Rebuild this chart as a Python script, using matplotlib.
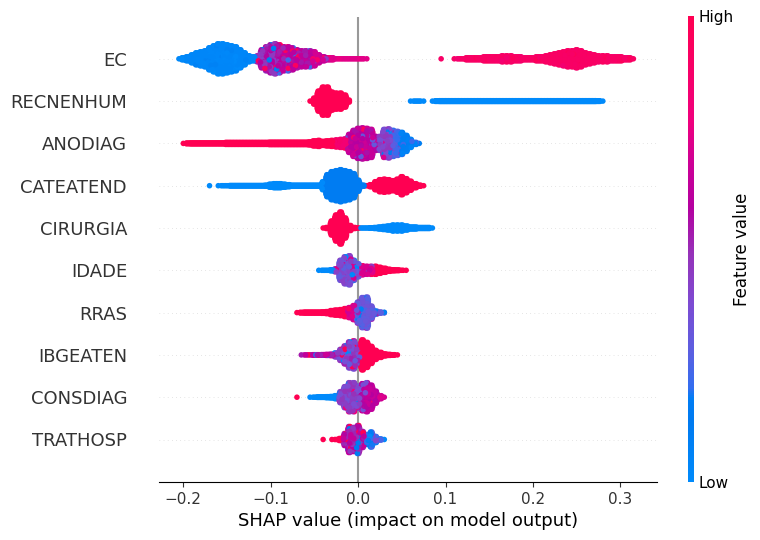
import numpy as np
import matplotlib
matplotlib.use('Agg')
import matplotlib.pyplot as plt
from matplotlib.colors import LinearSegmentedColormap
from matplotlib.cm import ScalarMappable

# Features from the most to the least important
features = ['EC', 'RECNENHUM', 'ANODIAG', 'CATEATEND', 'CIRURGIA',
            'IDADE', 'RRAS', 'IBGEATEN', 'CONSDIAG', 'TRATHOSP']

# SHAP bin width, every feature is a histogram of piles over these bins
bin_width = 0.005

# First bin of each feature
first_bin = [-0.205, -0.055, -0.2, -0.17, -0.04, -0.045, -0.07, -0.065, -0.07, -0.04]

# Pile height per bin, -1 means nothing in that bin
ec_pile = [0, 1, 2, 4, 6, 7, 8, 11, 13, 15, 15, 14, 13, 12, 9, 6, 3, 2, 3, 9, 12, 14,
           15, 14, 12, 12, 11, 9, 8, 8, 8, 7, 4, 2, 1, 1, 0, 0, 0, 0, 0, 0, 0, 0,
           -1, -1, -1, -1, -1, -1, -1, -1, -1, -1, -1, -1, -1, -1, -1, -1,
           0, -1, -1,
           0, 0, 0, 1, 1, 1, 1, 2, 2, 2, 2, 3, 3, 3, 2, 2, 1, 1, 1, 2, 2, 3, 4, 5,
           6, 7, 8, 8, 9, 8, 6, 5, 4, 3, 3, 3, 2, 2, 2, 1, 1, 0]
recnenhum_pile = [0, 3, 10, 14, 14, 9, 8, 8, 6, 1,
                  -1, -1, -1, -1, -1, -1, -1, -1, -1, -1, -1, -1, -1,
                  0, 0, 0, 0, -1,
                  0, 0.3, 0.4, 0.4, 0.4, 0.4, 0.4, 0.4, 0.4, 0.4, 0.4, 0.4, 0.4, 0.4,
                  0.4, 0.4, 0.4, 0.4, 0.4, 0.4, 0.4, 0.4, 0.4, 0.4, 0.4, 0.4, 0.4, 0.4,
                  0.4, 0.4, 0.4, 0.4, 0.4, 0.4, 0.4, 0.4, 0.4, 0.4, 0.3, 0]
anodiag_pile = [0, 0.3, 0.5, 0.5, 0.5, 0.5, 0.5, 0.5, 0.5, 0.5,
                1, 1, 1, 1, 1, 1, 1, 1, 1, 1,
                1.2, 1.2, 1.2, 1.2, 1.2, 1.2, 1.2, 1.2, 1.2, 1.5,
                2.5, 3, 2, 2.5, 3, 3.5, 4, 4.5, 9, 13, 15, 15.5, 15, 14, 7, 7,
                14, 14.5, 13, 12, 11, 8, 4, 1, 0]
cateatend_pile = [0, -1, 0, 0, 0, 0.2, 0.2, 0.2, 0.2, 0.2, 0.2, 0.2, 0.2, 0.5, 1.5, 2, 2, 1.5,
                  1, 0.5, 0.5, 0.5, 0.5, 0.5, 0.5, 0.5, 4, 11, 14, 15, 16, 15, 14, 12,
                  5.5, 0.5, 0, 1, 4, 6, 6.5, 6, 5, 6.5, 9, 7, 4.5, 2, 0.5, 0]
cirurgia_pile = [0, 0.5, 7, 13, 16, 10, 2.5, 0.5, 0, 0, 0, 0.2, 0.5, 1, 1.5, 2, 3, 3, 3,
                 2, 1, 1, 0.5, 0.5, 0.5, 0]
idade_pile = [0, 0, 0, 0.5, 1.5, 10, 13.5, 14.5, 10, 6.5, 4.5, 4, 4, 4, 3, 2, 1, 0.5,
              0.3, 0, 0]
rras_pile = [0, 0.2, 0.5, 0.5, 0.5, 0.5, 0.7, 1, 2, 2.5, 3, 4, 5, 7, 10.5, 15, 15.5,
             6.5, 1.5, 0.5, 0.3]
ibgeaten_pile = [0, 0, 0, 0.2, 0.2, 0.3, 0.5, 0.7, 2, 5.5, 9, 13, 14, 8, 15, 12.5, 8.5,
                 4.5, 2.5, 1, 0.5, 0.2, 0]
consdiag_pile = [0, -1, -1, 0, 0, 0.2, 0.2, 0.5, 0.7, 1.5, 5.5, 10.5, 14.5, 14.5, 11,
                 13.5, 14.5, 12, 6, 1.5, 0]
trathosp_pile = [0, -1, 0, 0, 1, 6, 13, 12, 14, 8, 5, 7.5, 3, 0.5, 0]
piles = [ec_pile, recnenhum_pile, anodiag_pile, cateatend_pile, cirurgia_pile,
         idade_pile, rras_pile, ibgeaten_pile, consdiag_pile, trathosp_pile]

# Feature value along each swarm: right edge of a stretch, mean value there, scatter
ec_edges, ec_value, ec_scatter = [-0.117, -0.09, -0.05, -0.03, 0.05, 1], [0.03, 0.52, 0.58, 0.66, 0.74, 0.9], [0.04, 0.4, 0.35, 0.2, 0.02, 0.06]
recnenhum_edges, recnenhum_value, recnenhum_scatter = [0, 1], [1, 0], [0, 0]
anodiag_edges, anodiag_value, anodiag_scatter = [-0.03, -0.012, 0.02, 0.035, 0.045, 1], [1, 0.85, 0.62, 0.42, 0.25, 0.07], [0, 0.1, 0.3, 0.3, 0.25, 0.15]
cateatend_edges, cateatend_value, cateatend_scatter = [-0.04, 0.007, 1], [0, 0.11, 1], [0, 0, 0]
cirurgia_edges, cirurgia_value, cirurgia_scatter = [0.003, 1], [1, 0], [0, 0]
idade_edges, idade_value, idade_scatter = [-0.027, 0, 0.015, 1], [0, 0.36, 0.7, 1], [0, 0.35, 0.25, 0]
rras_edges, rras_value, rras_scatter = [-0.012, -0.002, 1], [1, 0.72, 0.3], [0, 0.2, 0.22]
ibgeaten_edges, ibgeaten_value, ibgeaten_scatter = [-0.03, 0.002, 1], [0.6, 0.42, 1], [0.4, 0.55, 0]
consdiag_edges, consdiag_value, consdiag_scatter = [-0.065, -0.022, 0.001, 0.024, 1], [1, 0, 0.42, 0.62, 0.72], [0, 0, 0.35, 0.25, 0.1]
trathosp_edges, trathosp_value, trathosp_scatter = [-0.018, 0.009, 1], [1, 0.56, 0.2], [0, 0.45, 0.2]
edges = [ec_edges, recnenhum_edges, anodiag_edges, cateatend_edges, cirurgia_edges,
         idade_edges, rras_edges, ibgeaten_edges, consdiag_edges, trathosp_edges]
values = [ec_value, recnenhum_value, anodiag_value, cateatend_value, cirurgia_value,
          idade_value, rras_value, ibgeaten_value, consdiag_value, trathosp_value]
scatters = [ec_scatter, recnenhum_scatter, anodiag_scatter, cateatend_scatter, cirurgia_scatter,
            idade_scatter, rras_scatter, ibgeaten_scatter, consdiag_scatter, trathosp_scatter]

x_ticks = [-0.2, -0.1, 0.0, 0.1, 0.2, 0.3]

# same shape as the shap red_blue map
red_blue = LinearSegmentedColormap.from_list('red_blue', [
    (0.0, '#008afb'), (0.13, '#007af0'), (0.18, '#007df5'), (0.2, '#326ef0'),
    (0.277, '#5a5fe1'), (0.384, '#7d4bd2'), (0.49, '#9632b9'), (0.59, '#b400a0'),
    (0.685, '#cd0096'), (0.777, '#f0007d'), (1.0, '#ff0052')])

pile_scale = 1 / 42.3   # one pile unit in row heights
value_cycle = [0.1, -0.2, 0.15, -0.1, 0.2, -1.0, -0.15, 0.05, 0.1, -0.05, 1.0, 0.2, -0.1]

fig = plt.figure(figsize=(7.6, 5.4), dpi=100)
ax = fig.add_axes([159 / 760, 1 - 481.8 / 540, 497.7 / 760, 465.3 / 540])

n_rows = len(features)
ax.axvline(x=0, color='#999999', zorder=-1)

xs, ys, cs = [], [], []
for i in range(n_rows):
    row = n_rows - 1 - i
    ax.axhline(y=row, color='#cccccc', lw=0.5, dashes=(1, 5), zorder=-2)
    pile_list = piles[i]
    for k, pile in enumerate(pile_list):
        if pile < 0:
            continue
        center = first_bin[i] + k * bin_width
        seg = np.searchsorted(edges[i], center)
        # a bin at the end of a run keeps its dots on the bin centre
        at_end = k == 0 or k == len(pile_list) - 1 or pile_list[k - 1] < 0 or pile_list[k + 1] < 0
        n = int(np.ceil(pile / 1.2))
        for off in np.linspace(-pile, pile, 2 * n + 1):
            if at_end:
                steps = [0]
            elif pile >= 3 and abs(off) > pile - 1.5:
                # outer dots of a tall pile sit closer together, this rounds the swarm
                steps = [-bin_width / 6, bin_width / 6]
            else:
                steps = [-bin_width / 3, 0, bin_width / 3]
            for step in steps:
                xs.append(center + step)
                ys.append(row + off * pile_scale)
                idx = len(xs)
                cs.append(values[i][seg] + scatters[i][seg] * value_cycle[idx % len(value_cycle)])

xs, ys, cs = np.array(xs), np.array(ys), np.clip(cs, 0, 1)
ids = np.arange(len(xs), dtype=np.int64)
order = np.argsort((ids * ids * 2654435761) % 2**32)   # mix the drawing order
ax.scatter(xs[order], ys[order], c=cs[order], cmap=red_blue, vmin=0, vmax=1,
           s=16, linewidth=0, zorder=3)

ax.set_xlim((159 - 358.1) / 874, (656.7 - 358.1) / 874)
ax.set_ylim(-1, n_rows)
ax.set_yticks(range(n_rows))
ax.set_yticklabels(features[::-1], fontsize=13)
ax.set_xticks(x_ticks)
for side in ['top', 'left', 'right']:
    ax.spines[side].set_visible(False)
ax.tick_params(axis='y', length=0, pad=23, labelcolor='#333333')
ax.tick_params(axis='x', labelsize=11, labelcolor='#333333', color='#333333')
ax.xaxis.set_ticks_position('bottom')
ax.set_xlabel('SHAP value (impact on model output)', fontsize=13)

# colour bar on the right
cax = fig.add_axes([688 / 760, 1 - 482.3 / 540, 5.5 / 760, 466 / 540])
sm = ScalarMappable(cmap=red_blue)
sm.set_array([0, 1])
cb = fig.colorbar(sm, cax=cax, ticks=[0, 1])
cb.set_ticklabels(['Low', 'High'])
cb.ax.tick_params(labelsize=11, length=0)
cb.set_label('Feature value', size=12, labelpad=0)
cb.outline.set_visible(False)

fig.savefig('out.png', dpi=100)
